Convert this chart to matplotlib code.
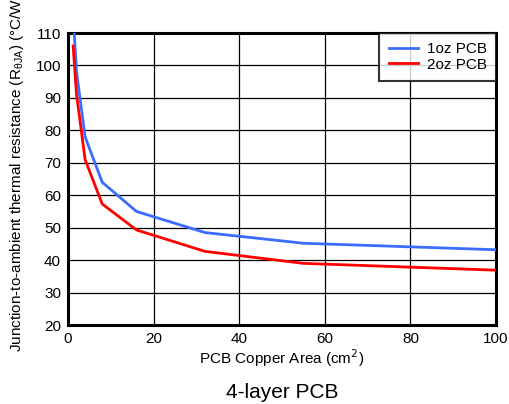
import numpy as np
import matplotlib
matplotlib.use('Agg')
import matplotlib.pyplot as plt

plt.rcParams['font.family'] = ['Liberation Sans', 'DejaVu Sans']

# copper area (cm^2) and theta-JA (C/W)
area = [1.2, 2, 4, 8, 16, 32, 55, 100]
rth_1oz = [116, 98, 78, 64, 55, 48.5, 45.2, 43.2]
rth_2oz = [106, 91, 71, 57.3, 49.3, 42.7, 39.0, 36.9]

xticks = [0, 20, 40, 60, 80, 100]
yticks = [20, 30, 40, 50, 60, 70, 80, 90, 100, 110]

fig = plt.figure(figsize=(5.1, 4.04), dpi=100)
ax = fig.add_axes([0.1333, 0.1955, 0.8392, 0.7228])

ax.plot(area, rth_1oz, color='#3b6cff', lw=2, label='1oz PCB', zorder=3)
ax.plot(area, rth_2oz, color='#ff0000', lw=2, label='2oz PCB', zorder=3)

ax.set_xlim(0, 100)
ax.set_ylim(20, 110)
ax.set_xticks(xticks)
ax.set_yticks(yticks)
ax.tick_params(length=0, labelsize=11, pad=5)
ax.grid(True, color='black', lw=0.9)
for s in ax.spines.values():
    s.set_linewidth(2.2)

ax.set_xlabel('PCB Copper Area (cm$^2$)', fontsize=11, labelpad=1)
# y label runs off the top edge in the original
fig.text(17 / 510, 1 - 352 / 404,
         r'Junction-to-ambient thermal resistance (R$_{\mathregular{θJA}}$) (°C/W)',
         rotation=90, ha='center', va='bottom', fontsize=11)

leg = ax.legend(loc='upper right', fontsize=11, frameon=True, fancybox=False,
                borderaxespad=0, handlelength=1.9, handletextpad=0.6,
                borderpad=0.6, labelspacing=0.1)
leg.get_frame().set_edgecolor('black')
leg.get_frame().set_linewidth(1.5)

fig.text(282 / 510, 1 - 392 / 404, '4-layer PCB', ha='center', va='center', fontsize=15)

fig.savefig('out.png', dpi=100)
